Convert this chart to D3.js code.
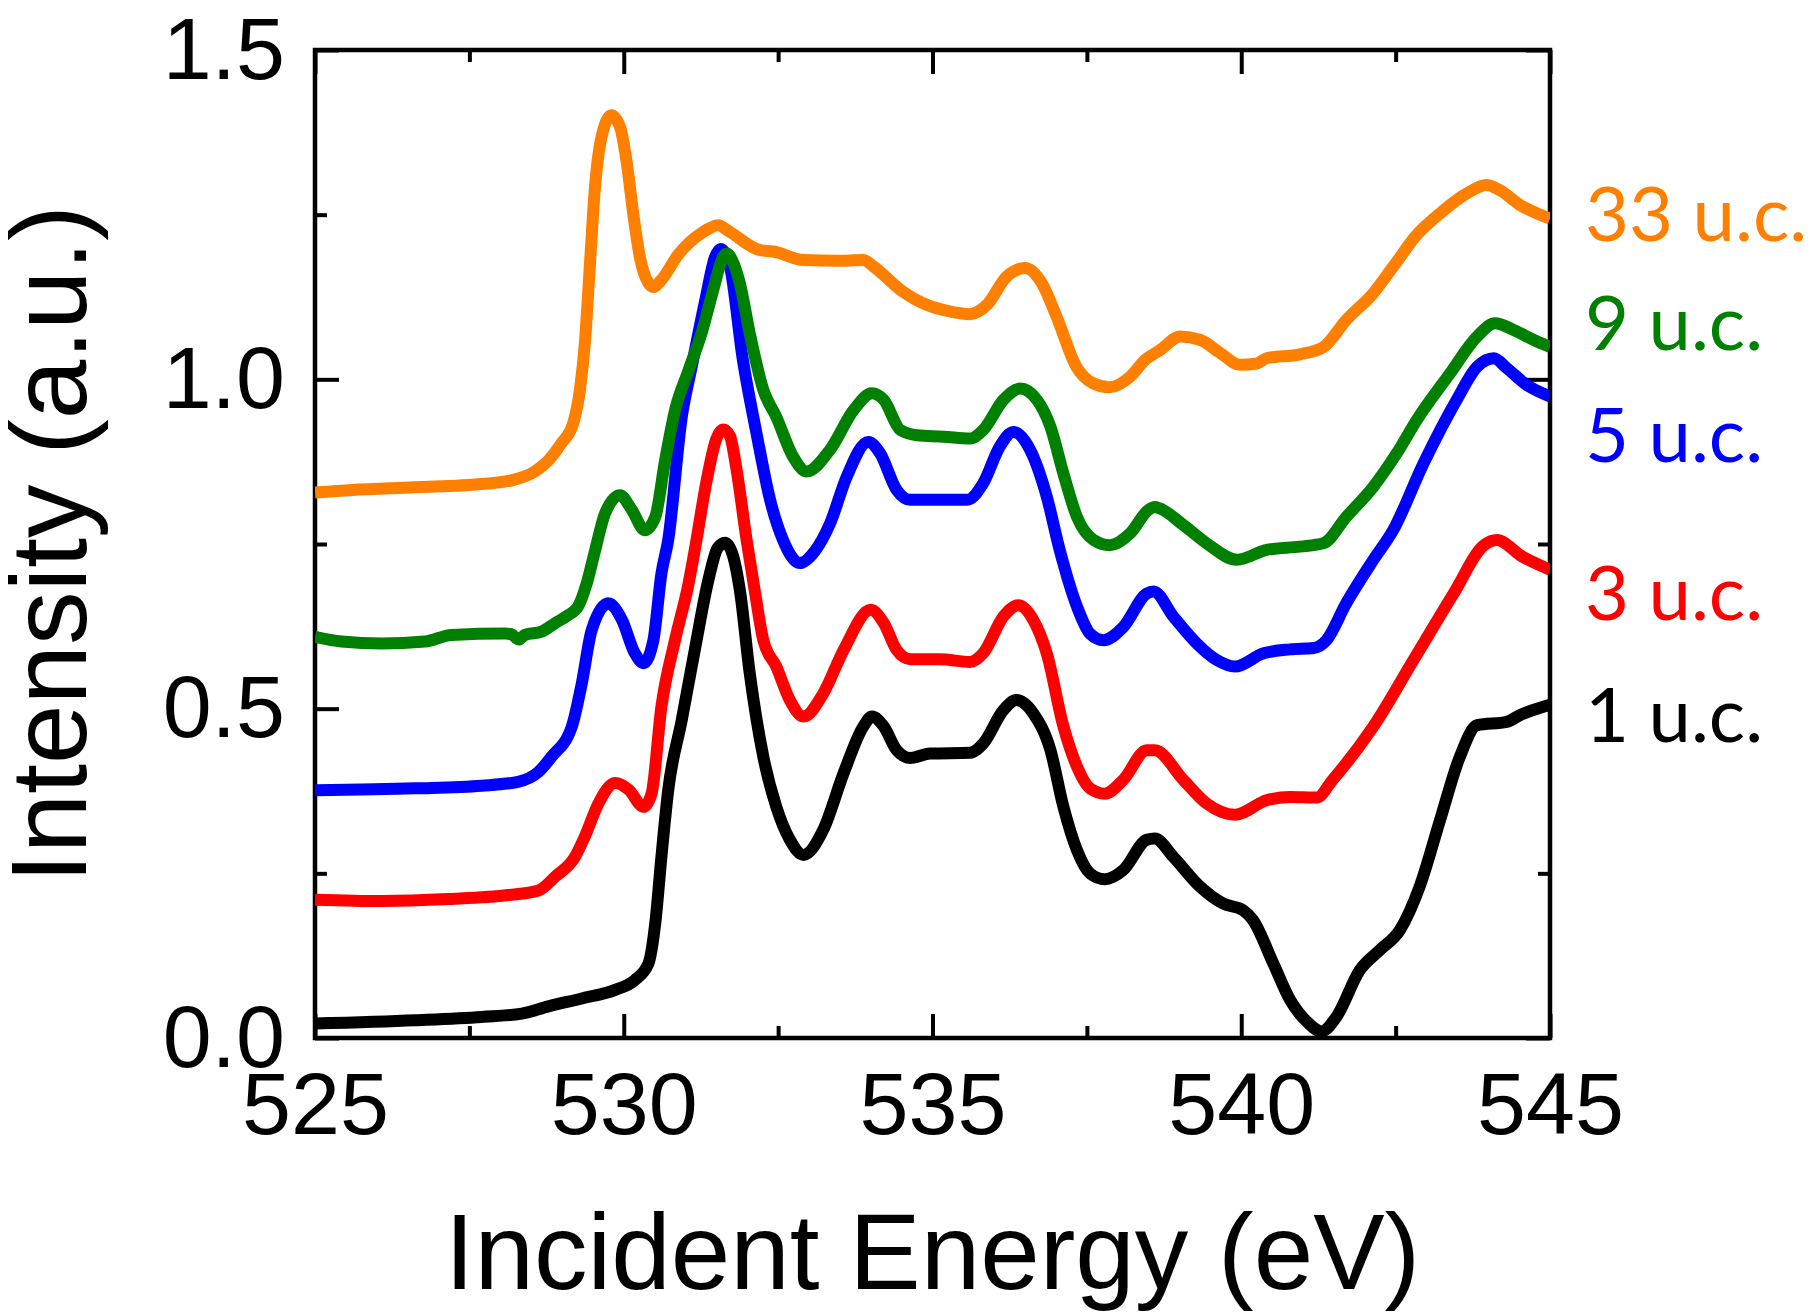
<!DOCTYPE html>
<html>
<head>
<meta charset="utf-8">
<script src="https://cdn.jsdelivr.net/npm/d3@7"></script>
<style>
  body { margin: 0; background: #fff; }
  .tick text { font-family: "Liberation Sans", Arial, sans-serif; font-size: 88px; fill: #000; }
  .axisTitle { font-family: "Liberation Sans", Arial, sans-serif; font-size: 107px; fill: #000; }
  .seriesLabel { font-family: Lato, "Open Sans", sans-serif; font-size: 76px; }
</style>
</head>
<body>
<div id="chart"></div>
<script>
// spectra: [incident energy (eV), intensity (a.u.)]
var uc1 = [[525.0,0.022],[526.62,0.027],[527.70,0.032],[528.35,0.037],[528.78,0.048],[529.32,0.060],[529.86,0.073],[530.18,0.088],[530.40,0.113],[530.51,0.174],[530.61,0.275],[530.72,0.376],[530.94,0.483],[531.15,0.589],[531.37,0.695],[531.52,0.744],[531.64,0.752],[531.76,0.735],[531.88,0.680],[532.04,0.554],[532.26,0.427],[532.47,0.351],[532.69,0.301],[532.91,0.278],[533.23,0.316],[533.56,0.402],[533.88,0.473],[534.02,0.488],[534.21,0.473],[534.42,0.437],[534.64,0.425],[534.96,0.432],[535.61,0.433],[535.82,0.447],[536.15,0.498],[536.36,0.513],[536.63,0.493],[536.91,0.437],[537.12,0.351],[537.34,0.285],[537.55,0.250],[537.79,0.241],[538.09,0.255],[538.47,0.301],[538.60,0.303],[538.90,0.275],[539.33,0.230],[539.71,0.204],[540.03,0.194],[540.19,0.179],[540.52,0.113],[540.79,0.058],[541.06,0.025],[541.30,0.010],[541.54,0.032],[541.92,0.103],[542.25,0.134],[542.57,0.164],[542.89,0.230],[543.22,0.331],[543.54,0.427],[543.82,0.475],[544.30,0.480],[544.51,0.490],[545.0,0.506]];

var uc3 = [[525.0,0.210],[526.08,0.208],[527.16,0.211],[528.13,0.217],[528.62,0.224],[528.89,0.245],[529.21,0.275],[529.37,0.306],[529.59,0.356],[529.86,0.387],[530.08,0.377],[530.32,0.351],[530.45,0.371],[530.61,0.503],[530.83,0.604],[531.05,0.690],[531.15,0.741],[531.35,0.850],[531.50,0.910],[531.61,0.924],[531.72,0.914],[531.82,0.867],[531.99,0.756],[532.12,0.680],[532.26,0.604],[532.47,0.564],[532.69,0.513],[532.91,0.488],[533.23,0.523],[533.56,0.589],[534.00,0.650],[534.21,0.630],[534.42,0.589],[534.64,0.575],[535.12,0.575],[535.61,0.571],[535.82,0.584],[536.15,0.640],[536.39,0.657],[536.63,0.635],[536.85,0.584],[537.12,0.473],[537.34,0.412],[537.55,0.379],[537.79,0.371],[538.09,0.392],[538.47,0.437],[538.60,0.437],[539.06,0.392],[539.44,0.356],[539.90,0.339],[540.41,0.361],[540.79,0.366],[541.22,0.365],[541.48,0.392],[542.14,0.473],[542.79,0.574],[543.44,0.675],[543.93,0.748],[544.14,0.756],[544.55,0.731],[545.0,0.711]];

var uc5 = [[525.0,0.376],[526.62,0.379],[527.70,0.383],[528.29,0.389],[528.62,0.404],[528.83,0.427],[529.16,0.473],[529.32,0.538],[529.48,0.619],[529.75,0.660],[529.97,0.635],[530.18,0.584],[530.32,0.569],[530.48,0.604],[530.61,0.705],[530.72,0.756],[530.94,0.943],[531.10,1.019],[531.32,1.120],[531.48,1.186],[531.57,1.198],[531.72,1.171],[531.93,1.029],[532.15,0.918],[532.37,0.817],[532.58,0.756],[532.85,0.721],[533.10,0.740],[533.34,0.781],[533.61,0.852],[533.96,0.905],[534.15,0.888],[534.42,0.832],[534.64,0.817],[535.07,0.817],[535.56,0.817],[535.82,0.842],[536.09,0.898],[536.31,0.920],[536.58,0.893],[536.85,0.822],[537.06,0.741],[537.34,0.655],[537.55,0.614],[537.77,0.604],[538.09,0.624],[538.47,0.675],[538.58,0.678],[538.90,0.640],[539.28,0.599],[539.60,0.574],[539.90,0.564],[540.36,0.584],[540.79,0.590],[541.17,0.592],[541.38,0.604],[541.70,0.660],[542.14,0.726],[542.46,0.771],[542.95,0.872],[543.49,0.969],[543.82,1.019],[544.09,1.032],[544.30,1.017],[544.63,0.991],[545.0,0.974]];

var uc9 = [[525.0,0.609],[525.43,0.602],[526.08,0.599],[526.78,0.602],[527.21,0.612],[528.08,0.614],[528.18,0.613],[528.30,0.605],[528.40,0.612],[528.67,0.617],[528.89,0.630],[529.10,0.642],[529.26,0.655],[529.40,0.690],[529.53,0.738],[529.70,0.797],[529.94,0.824],[530.13,0.802],[530.34,0.771],[530.51,0.791],[530.67,0.877],[530.83,0.953],[531.05,1.014],[531.26,1.070],[531.45,1.136],[531.61,1.186],[531.67,1.191],[531.76,1.180],[531.88,1.146],[532.04,1.070],[532.26,0.984],[532.47,0.943],[532.74,0.883],[532.96,0.860],[533.34,0.893],[533.72,0.953],[534.02,0.979],[534.21,0.969],[534.48,0.923],[534.75,0.915],[535.18,0.913],[535.61,0.910],[535.82,0.923],[536.15,0.969],[536.42,0.986],[536.69,0.969],[536.91,0.928],[537.12,0.857],[537.34,0.791],[537.61,0.756],[537.87,0.748],[538.20,0.766],[538.50,0.802],[538.60,0.806],[538.68,0.804],[539.06,0.779],[539.44,0.751],[539.93,0.726],[540.41,0.741],[540.95,0.746],[541.33,0.751],[541.70,0.791],[542.14,0.837],[542.52,0.888],[542.84,0.938],[543.38,1.009],[543.82,1.065],[544.11,1.085],[544.41,1.075],[544.73,1.060],[545.0,1.049]];

var uc33 = [[525.0,0.828],[525.6,0.832],[526.6,0.836],[527.7,0.841],[528.2,0.847],[528.56,0.860],[528.78,0.877],[528.99,0.903],[529.18,0.933],[529.29,0.984],[529.37,1.055],[529.45,1.171],[529.53,1.287],[529.64,1.368],[529.80,1.401],[529.94,1.383],[530.05,1.328],[530.16,1.247],[530.26,1.186],[530.40,1.146],[530.48,1.140],[530.61,1.151],[530.88,1.189],[531.26,1.222],[531.53,1.234],[531.70,1.225],[532.21,1.196],[532.42,1.194],[532.91,1.181],[533.45,1.180],[533.88,1.181],[534.05,1.171],[534.48,1.136],[534.91,1.113],[535.24,1.104],[535.61,1.099],[535.88,1.113],[536.20,1.156],[536.50,1.169],[536.77,1.146],[537.01,1.095],[537.33,1.019],[537.60,0.994],[537.87,0.988],[538.20,1.004],[538.45,1.030],[538.68,1.044],[539.01,1.065],[539.33,1.060],[539.66,1.040],[539.98,1.022],[540.25,1.024],[540.41,1.032],[540.95,1.038],[541.33,1.049],[541.70,1.090],[542.14,1.131],[542.46,1.171],[542.84,1.219],[543.22,1.252],[543.65,1.282],[543.97,1.295],[544.19,1.287],[544.51,1.265],[545.0,1.244]];

var seriesNames = ["1 u.c.", "3 u.c.", "5 u.c.", "9 u.c.", "33 u.c."];
var seriesData = [uc1, uc3, uc5, uc9, uc33];
var seriesColors = ["#000000", "#ff0000", "#0000ff", "#008000", "#ff8000"];
// label baselines, in intensity units
var labelLevels = [0.45, 0.635, 0.875, 1.045, 1.21];

var xTicks = [525, 530, 535, 540, 545];
var xMinorTicks = [527.5, 532.5, 537.5, 542.5];
var yTicks = [0.0, 0.5, 1.0, 1.5];
var yMinorTicks = [0.25, 0.75, 1.25];

var svgWidth = 1813;
var svgHeight = 1314;
var margin = { top: 50, right: 263, bottom: 276, left: 315 };
var chartWidth = svgWidth - margin.left - margin.right;
var chartHeight = svgHeight - margin.top - margin.bottom;

var svg = d3.select("#chart").append("svg")
  .attr("width", svgWidth)
  .attr("height", svgHeight)
  .style("background", "#fff");

var chartGroup = svg.append("g")
  .attr("transform", `translate(${margin.left}, ${margin.top})`);

var x = d3.scaleLinear().domain([525, 545]).range([0, chartWidth]);
var y = d3.scaleLinear().domain([0, 1.5]).range([chartHeight, 0]);

function styleAxis(g) {
  g.select(".domain").remove();
  g.selectAll(".tick line").attr("stroke", "#000").attr("stroke-width", 4);
}

// major ticks with labels (inward)
chartGroup.append("g")
  .attr("transform", `translate(0, ${chartHeight})`)
  .call(d3.axisBottom(x).tickValues(xTicks).tickSize(-24).tickPadding(34).tickFormat(d3.format("d")))
  .call(styleAxis);
chartGroup.append("g")
  .call(d3.axisTop(x).tickValues(xTicks).tickSize(-24).tickFormat(""))
  .call(styleAxis);
chartGroup.append("g")
  .call(d3.axisLeft(y).tickValues(yTicks).tickSize(-24).tickPadding(30).tickFormat(d3.format(".1f")))
  .call(styleAxis);
chartGroup.append("g")
  .attr("transform", `translate(${chartWidth}, 0)`)
  .call(d3.axisRight(y).tickValues(yTicks).tickSize(-24).tickFormat(""))
  .call(styleAxis);

// minor ticks
chartGroup.append("g")
  .attr("transform", `translate(0, ${chartHeight})`)
  .call(d3.axisBottom(x).tickValues(xMinorTicks).tickSize(-12).tickFormat(""))
  .call(styleAxis);
chartGroup.append("g")
  .call(d3.axisTop(x).tickValues(xMinorTicks).tickSize(-12).tickFormat(""))
  .call(styleAxis);
chartGroup.append("g")
  .call(d3.axisLeft(y).tickValues(yMinorTicks).tickSize(-12).tickFormat(""))
  .call(styleAxis);
chartGroup.append("g")
  .attr("transform", `translate(${chartWidth}, 0)`)
  .call(d3.axisRight(y).tickValues(yMinorTicks).tickSize(-12).tickFormat(""))
  .call(styleAxis);

// frame
chartGroup.append("rect")
  .attr("width", chartWidth)
  .attr("height", chartHeight)
  .attr("fill", "none")
  .attr("stroke", "#000")
  .attr("stroke-width", 4.5);

svg.append("clipPath").attr("id", "plotClip")
  .append("rect")
  .attr("x", 0).attr("y", -10)
  .attr("width", chartWidth).attr("height", chartHeight + 10);

var line = d3.line()
  .x(d => x(d[0]))
  .y(d => y(d[1]))
  .curve(d3.curveMonotoneX);

chartGroup.append("g")
  .attr("clip-path", "url(#plotClip)")
  .selectAll("path")
  .data(seriesData)
  .enter()
  .append("path")
  .attr("d", d => line(d))
  .attr("fill", "none")
  .attr("stroke", (d, i) => seriesColors[i])
  .attr("stroke-width", 12)
  .attr("stroke-linejoin", "round");

// series labels right of the frame
chartGroup.selectAll(".seriesLabel")
  .data(seriesNames)
  .enter()
  .append("text")
  .attr("class", "seriesLabel")
  .attr("x", chartWidth + 35)
  .attr("y", (d, i) => y(labelLevels[i]))
  .attr("fill", (d, i) => seriesColors[i])
  .text(d => d);

// axis titles
svg.append("text")
  .attr("class", "axisTitle")
  .attr("x", margin.left + chartWidth / 2)
  .attr("y", 1289)
  .attr("text-anchor", "middle")
  .text("Incident Energy (eV)");

svg.append("text")
  .attr("class", "axisTitle")
  .attr("transform", `translate(86, ${margin.top + chartHeight / 2}) rotate(-90)`)
  .attr("text-anchor", "middle")
  .text("Intensity (a.u.)");
</script>
</body>
</html>
